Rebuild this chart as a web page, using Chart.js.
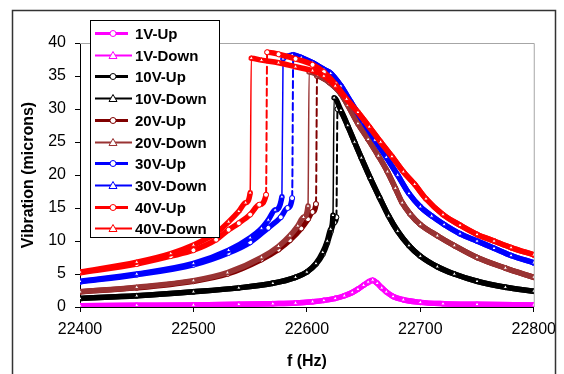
<!DOCTYPE html>
<html>
<head>
<meta charset="utf-8">
<script src="https://cdn.jsdelivr.net/npm/chart.js@4.4.1/dist/chart.umd.min.js"></script>
<style>
  html, body { margin: 0; padding: 0; background: #fff; }
  #wrap { position: relative; width: 564px; height: 374px; }
</style>
</head>
<body>
<div id="wrap"><canvas id="chart" width="564" height="374"></canvas></div>
<script>
// tick labels
const xTicks = [22400, 22500, 22600, 22700, 22800]
const yTicks = [0, 5, 10, 15, 20, 25, 30, 35, 40]

// 1V
const f1 = [22400, 22450, 22500, 22540, 22570, 22590, 22605, 22615, 22625, 22633, 22640, 22645, 22650, 22654, 22658, 22662, 22666, 22670, 22676, 22685, 22700, 22720, 22750, 22800]
const v1Up = [0.2, 0.25, 0.3, 0.4, 0.5, 0.6, 0.8, 1.0, 1.3, 1.7, 2.2, 2.7, 3.3, 3.7, 4.0, 3.6, 2.9, 2.3, 1.6, 1.1, 0.7, 0.5, 0.4, 0.3]
const v1Down = [0.2, 0.25, 0.3, 0.4, 0.5, 0.6, 0.8, 1.0, 1.3, 1.7, 2.2, 2.7, 3.3, 3.8, 4.1, 3.6, 2.9, 2.3, 1.6, 1.1, 0.7, 0.5, 0.4, 0.3]

// 10V
const f10Up = [22400, 22450, 22500, 22540, 22570, 22590, 22600, 22608, 22614, 22618, 22621, 22624, 22626, 22627, 22630, 22636, 22642, 22648, 22656, 22664, 22672, 22680, 22690, 22700, 22715, 22730, 22750, 22775, 22800]
const v10Up = [1.3, 1.7, 2.3, 2.9, 3.6, 4.5, 5.3, 6.5, 8.0, 9.7, 11.4, 12.8, 13.6, 30.0, 29.6, 27.4, 25.0, 22.6, 19.5, 16.6, 13.8, 11.5, 9.3, 7.7, 6.1, 5.0, 3.9, 3.0, 2.4]
const f10Down = [22400, 22450, 22500, 22540, 22570, 22590, 22600, 22608, 22614, 22618, 22621, 22623, 22624, 22630, 22636, 22642, 22648, 22656, 22664, 22672, 22680, 22690, 22700, 22715, 22730, 22750, 22775, 22800]
const v10Down = [1.3, 1.7, 2.3, 2.9, 3.6, 4.5, 5.3, 6.6, 8.3, 10.0, 11.8, 13.9, 31.7, 29.8, 27.5, 25.0, 22.6, 19.5, 16.6, 13.8, 11.5, 9.3, 7.7, 6.1, 5.0, 3.9, 3.0, 2.4]

// 20V
const f20Up = [22400, 22450, 22500, 22530, 22560, 22575, 22585, 22595, 22601, 22605, 22608, 22609, 22615, 22620, 22630, 22636, 22645, 22654, 22663, 22671, 22678, 22684, 22691, 22700, 22715, 22730, 22750, 22775, 22800]
const v20Up = [2.3, 2.9, 3.9, 5.0, 7.2, 8.7, 10.1, 11.9, 13.3, 14.4, 15.6, 35.0, 34.6, 34.0, 32.3, 30.6, 27.8, 25.4, 22.9, 20.5, 18.0, 15.8, 14.1, 12.5, 10.8, 9.3, 7.5, 5.9, 4.5]
const f20Down = [22400, 22450, 22500, 22530, 22560, 22575, 22585, 22592, 22597, 22601, 22602, 22610, 22620, 22630, 22636, 22645, 22654, 22663, 22671, 22678, 22684, 22691, 22700, 22715, 22730, 22750, 22775, 22800]
const v20Down = [2.3, 3.0, 4.0, 5.2, 7.5, 9.2, 10.8, 12.3, 13.6, 15.3, 35.6, 35.1, 34.0, 32.3, 30.6, 27.8, 25.4, 22.9, 20.5, 18.0, 15.8, 14.1, 12.5, 10.8, 9.3, 7.5, 5.9, 4.5]

// 30V
const f30Up = [22400, 22450, 22500, 22531, 22550, 22566, 22577, 22583, 22587, 22588, 22595, 22605, 22615, 22621, 22630, 22639, 22650, 22660, 22670, 22680, 22690, 22700, 22710, 22721, 22735, 22750, 22765, 22780, 22800]
const v30Up = [3.8, 4.9, 6.4, 8.2, 9.8, 12.0, 13.6, 15.0, 16.5, 38.2, 37.8, 37.0, 36.0, 35.4, 33.5, 31.0, 28.0, 25.3, 22.7, 20.0, 17.2, 15.2, 13.8, 12.5, 11.1, 10.0, 8.9, 7.8, 6.7]
const f30Down = [22400, 22450, 22500, 22531, 22550, 22560, 22566, 22572, 22578, 22579, 22583, 22587, 22595, 22605, 22615, 22621, 22630, 22639, 22650, 22660, 22670, 22680, 22690, 22700, 22710, 22721, 22735, 22750, 22765, 22780, 22800]
const v30Down = [3.9, 5.0, 6.6, 8.6, 10.5, 11.9, 13.2, 14.7, 16.7, 37.6, 38.0, 38.2, 37.8, 37.0, 36.0, 35.4, 33.5, 31.0, 28.0, 25.3, 22.7, 20.0, 17.2, 15.2, 13.8, 12.5, 11.1, 10.0, 8.9, 7.8, 6.7]

// 40V
const f40Up = [22400, 22450, 22480, 22500, 22520, 22531, 22540, 22550, 22558, 22564, 22565, 22575, 22590, 22605, 22615, 22625, 22635, 22645, 22655, 22665, 22675, 22685, 22695, 22705, 22720, 22735, 22750, 22765, 22780, 22800]
const v40Up = [5.2, 6.5, 7.7, 8.6, 10.2, 11.7, 12.7, 14.0, 15.5, 17.0, 38.6, 38.3, 37.6, 36.7, 35.6, 33.8, 31.5, 29.5, 27.3, 25.0, 22.8, 20.5, 18.6, 16.4, 14.0, 12.4, 11.0, 10.0, 9.0, 7.9]
const f40Down = [22400, 22450, 22480, 22500, 22520, 22531, 22540, 22546, 22550, 22551, 22560, 22575, 22590, 22605, 22615, 22625, 22635, 22645, 22655, 22665, 22675, 22685, 22695, 22705, 22720, 22735, 22750, 22765, 22780, 22800]
const v40Down = [5.3, 6.8, 8.1, 9.4, 11.2, 12.9, 14.5, 15.8, 17.3, 37.7, 37.4, 37.0, 36.4, 35.8, 35.0, 33.5, 31.5, 29.5, 27.3, 25.0, 22.8, 20.5, 18.6, 16.4, 14.0, 12.4, 11.0, 10.0, 9.0, 7.9]

const series = [
  { label: "1V-Up", f: f1, v: v1Up, color: "#ff00ff", up: true },
  { label: "1V-Down", f: f1, v: v1Down, color: "#ff00ff", up: false },
  { label: "10V-Up", f: f10Up, v: v10Up, color: "#000000", up: true },
  { label: "10V-Down", f: f10Down, v: v10Down, color: "#000000", up: false },
  { label: "20V-Up", f: f20Up, v: v20Up, color: "#800000", up: true },
  { label: "20V-Down", f: f20Down, v: v20Down, color: "#993333", up: false },
  { label: "30V-Up", f: f30Up, v: v30Up, color: "#0000ff", up: true },
  { label: "30V-Down", f: f30Down, v: v30Down, color: "#0000ff", up: false },
  { label: "40V-Up", f: f40Up, v: v40Up, color: "#ff0000", up: true },
  { label: "40V-Down", f: f40Down, v: v40Down, color: "#ff0000", up: false }
]

const isJump = ctx => Math.abs(ctx.p1.parsed.y - ctx.p0.parsed.y) > 8

const datasets = series.map((s, i) => ({
  label: s.label,
  data: s.f.map((f, k) => ({ x: f, y: s.v[k] })),
  borderColor: s.color,
  backgroundColor: "#ffffff",
  borderWidth: 5.5,
  borderJoinStyle: "round",
  borderCapStyle: "round",
  cubicInterpolationMode: "monotone",
  pointStyle: s.up ? "circle" : "triangle",
  pointRadius: 2.5,
  pointBorderWidth: 1,
  pointBorderColor: s.color,
  pointBackgroundColor: "#ffffff",
  order: series.length - 1 - i,
  segment: {
    borderWidth: ctx => isJump(ctx) ? (s.up ? 2 : 1.5) : undefined,
    borderDash: ctx => isJump(ctx) && s.up ? [7, 4] : undefined
  }
}))

// excel-like frame, plot border and legend box
const framePlugin = {
  id: "frame",
  beforeDatasetsDraw(chart) {
    const { ctx, chartArea: a } = chart
    ctx.save()
    ctx.strokeStyle = "#a6a6a6"
    ctx.lineWidth = 1
    ctx.beginPath()
    ctx.moveTo(a.left, a.top + 0.5)
    ctx.lineTo(a.right + 0.5, a.top + 0.5)
    ctx.lineTo(a.right + 0.5, a.bottom)
    ctx.stroke()
    ctx.restore()
  },
  afterDraw(chart) {
    const ctx = chart.ctx
    ctx.save()
    ctx.strokeStyle = "#333333"
    ctx.lineWidth = 1.5
    ctx.beginPath()
    ctx.moveTo(12.5, 374)
    ctx.lineTo(12.5, 10.5)
    ctx.lineTo(555.5, 10.5)
    ctx.lineTo(555.5, 374)
    ctx.stroke()

    // legend
    const lx = 90, ly = 20, lw = 129, lh = 217, rowH = 21.7
    ctx.fillStyle = "#ffffff"
    ctx.fillRect(lx, ly, lw, lh)
    ctx.strokeStyle = "#000000"
    ctx.lineWidth = 1
    ctx.strokeRect(lx + 0.5, ly + 0.5, lw, lh)
    ctx.font = "bold 15px 'Liberation Sans', Arial, sans-serif"
    ctx.textBaseline = "middle"
    series.forEach((s, i) => {
      const y = Math.round(ly + 13 + rowH * i) + 0.5
      ctx.strokeStyle = s.color
      ctx.lineWidth = s.up ? 3 : 2
      ctx.setLineDash([])
      ctx.beginPath()
      ctx.moveTo(95, y)
      ctx.lineTo(s.up ? 128 : 132, y)
      ctx.stroke()
      ctx.lineWidth = 1
      ctx.fillStyle = "#ffffff"
      ctx.beginPath()
      if (s.up) {
        ctx.arc(113, y, 3, 0, Math.PI * 2)
      } else {
        ctx.moveTo(113, y - 4)
        ctx.lineTo(117, y + 3)
        ctx.lineTo(109, y + 3)
        ctx.closePath()
      }
      ctx.fill()
      ctx.stroke()
      ctx.fillStyle = "#000000"
      ctx.fillText(s.label, 135, y + 1)
    })
    ctx.restore()
  }
}

Chart.defaults.font.family = "'Liberation Sans', Arial, sans-serif"
Chart.defaults.color = "#000000"

new Chart(document.getElementById("chart"), {
  type: "line",
  data: { datasets },
  plugins: [framePlugin],
  options: {
    responsive: false,
    animation: false,
    layout: { padding: { top: 43, right: 27, left: 0, bottom: 0 } },
    plugins: { legend: { display: false }, tooltip: { enabled: false } },
    scales: {
      x: {
        type: "linear",
        min: 22400,
        max: 22800,
        afterBuildTicks: scale => { scale.ticks = xTicks.map(v => ({ value: v })) },
        afterFit: scale => { scale.height = 67 },
        ticks: { font: { size: 16 }, padding: 8, callback: v => String(v), maxRotation: 0 },
        grid: { drawOnChartArea: false, tickLength: 5, tickColor: "#000" },
        border: { color: "#000", width: 1 },
        title: { display: true, text: "f (Hz)", font: { size: 16, weight: "bold" }, padding: { top: 0, bottom: 3 } }
      },
      y: {
        min: 0,
        max: 40,
        afterBuildTicks: scale => { scale.ticks = yTicks.map(v => ({ value: v })) },
        afterFit: scale => { scale.width = 80 },
        ticks: { font: { size: 16 }, padding: 9 },
        grid: { drawOnChartArea: false, tickLength: 5, tickColor: "#000" },
        border: { color: "#000", width: 1 },
        title: { display: true, text: "Vibration (microns)", font: { size: 16, weight: "bold" }, padding: { top: 19, bottom: 0 } }
      }
    }
  }
})
</script>
</body>
</html>
